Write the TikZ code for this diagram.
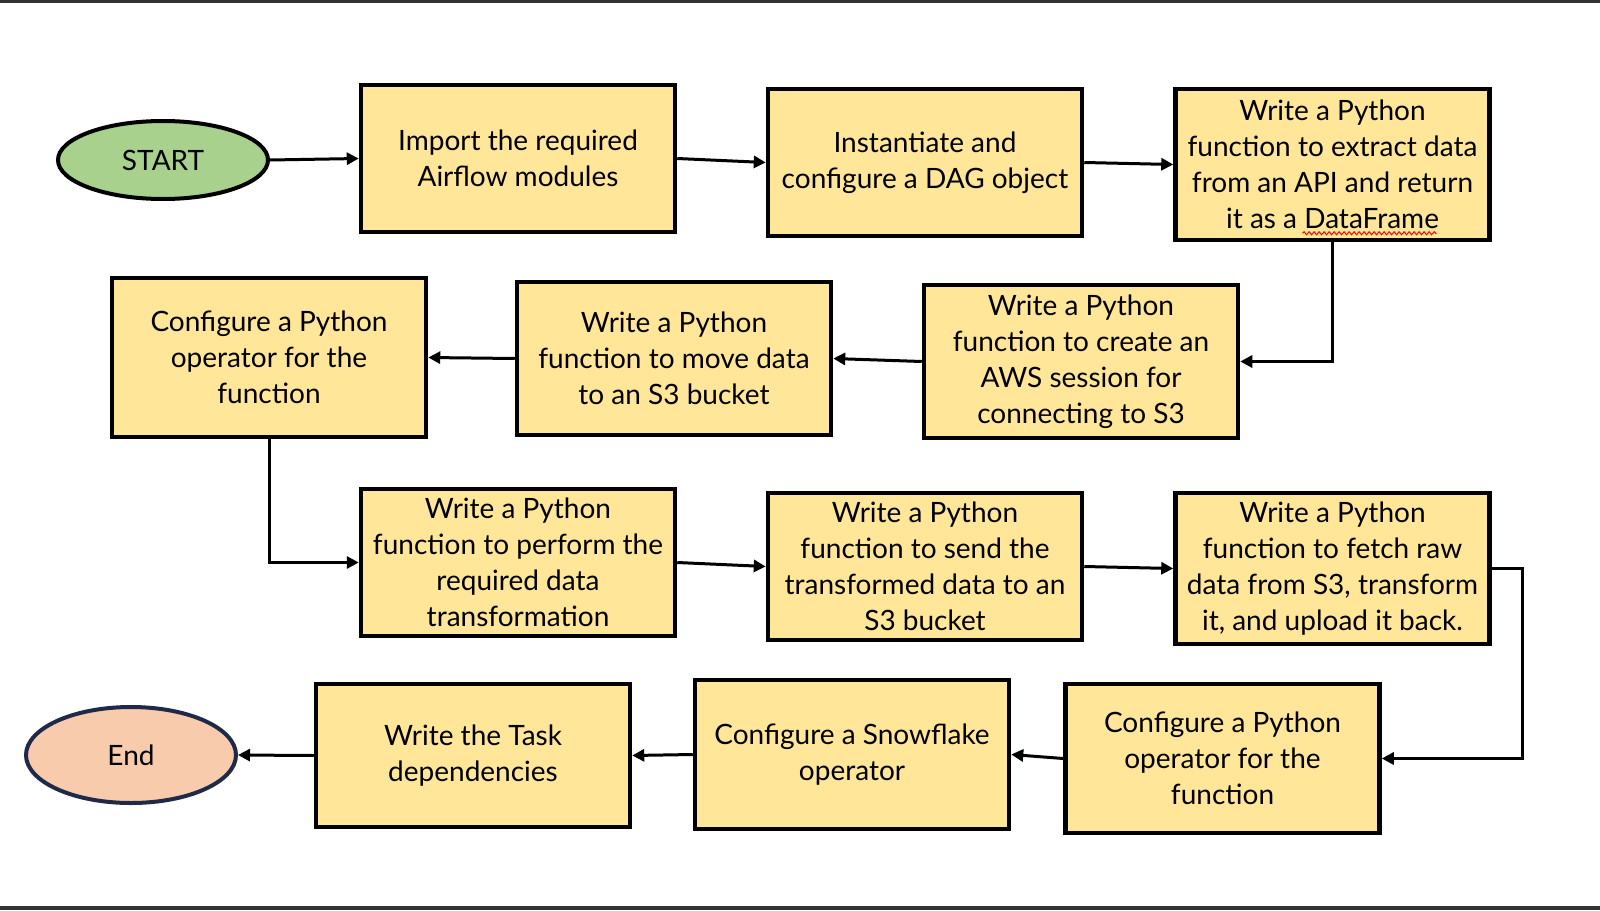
\documentclass[tikz,border=0pt]{standalone}
\usepackage{fontspec}
\setmainfont{Lato}
\usetikzlibrary{shapes.geometric,arrows.meta,decorations.pathmorphing}
\definecolor{boxfill}{HTML}{FFE699}
\definecolor{startfill}{HTML}{A9D18E}
\definecolor{endfill}{HTML}{F8CBAD}
\definecolor{endline}{HTML}{1F2A48}
\begin{document}
\begin{tikzpicture}[x=1pt,y=-1pt]
\tikzstyle{every node}+=[inner sep=0pt, font=\fontsize{28}{36}\selectfont, align=center]
\tikzstyle{stepbox}=[draw=black, fill=boxfill, line width=4.5pt, minimum width=314pt]
\tikzstyle{terminal}=[ellipse, line width=4pt, minimum width=210pt]
\tikzstyle{flow}=[line width=3pt, -{Triangle[length=12pt,width=12pt]}]
\useasboundingbox (0,0) rectangle (1600,910);
\fill [black!80] (0,0) rectangle (1600,3);
\fill [black!80] (0,906) rectangle (1600,910);
% first row
\node [terminal, draw=black, fill=startfill, minimum height=78pt] (start) at (163,160) {START};
\node [stepbox, minimum height=147pt] (import) at (518,158.5) {Import the required\\Airflow modules};
\node [stepbox, minimum height=147pt] (dag) at (925,162.5) {Instantiate and\\configure a DAG object};
\node [stepbox, minimum height=151pt] (extract) at (1332.5,164.5) {Write a Python\\function to extract data\\from an API and return\\it as a DataFrame};
\draw [red, line width=1pt, decorate, decoration={snake, amplitude=1.5pt, segment length=5pt}] ([xshift=-30pt, yshift=9pt]extract.south) -- ([xshift=104pt, yshift=9pt]extract.south);
% second row
\node [stepbox, minimum height=153pt] (session) at (1081,361.5) {Write a Python\\function to create an\\AWS session for\\connecting to S3};
\node [stepbox, minimum height=153pt] (move) at (674,358.5) {Write a Python\\function to move data\\to an S3 bucket};
\node [stepbox, minimum height=159pt] (operator) at (269,357.5) {Configure a Python\\operator for the\\function};
% third row
\node [stepbox, minimum height=147pt] (transform) at (518,562.5) {Write a Python\\function to perform the\\required data\\transformation};
\node [stepbox, minimum height=147pt] (send) at (925,566.5) {Write a Python\\function to send the\\transformed data to an\\S3 bucket};
\node [stepbox, minimum height=151pt] (fetch) at (1332.5,568.5) {Write a Python\\function to fetch raw\\data from S3, transform\\it, and upload it back.};
% fourth row
\node [stepbox, minimum height=149pt] (pyop) at (1222.5,758.5) {Configure a Python\\operator for the\\function};
\node [stepbox, minimum height=149pt] (snowflake) at (852,754.5) {Configure a Snowflake\\operator};
\node [stepbox, minimum height=143pt] (deps) at (473,755.5) {Write the Task\\dependencies};
\node [terminal, draw=endline, fill=endfill, minimum height=96pt] (end) at (131,755) {End};
\coordinate (turn) at (1522,568.5);
% connectors
\draw [flow] (start.east) -- (import.west);
\draw [flow] (import.east) -- (dag.west);
\draw [flow] (dag.east) -- (extract.west);
\draw [flow] (extract.south) |- (session.east);
\draw [flow] (session.west) -- (move.east);
\draw [flow] (move.west) -- (operator.east);
\draw [flow] (operator.south) |- (transform.west);
\draw [flow] (transform.east) -- (send.west);
\draw [flow] (send.east) -- (fetch.west);
\draw [flow] (fetch.east) -- (turn) |- (pyop.east);
\draw [flow] (pyop.west) -- (snowflake.east);
\draw [flow] (snowflake.west) -- (deps.east);
\draw [flow] (deps.west) -- (end.east);
\end{tikzpicture}
\end{document}
